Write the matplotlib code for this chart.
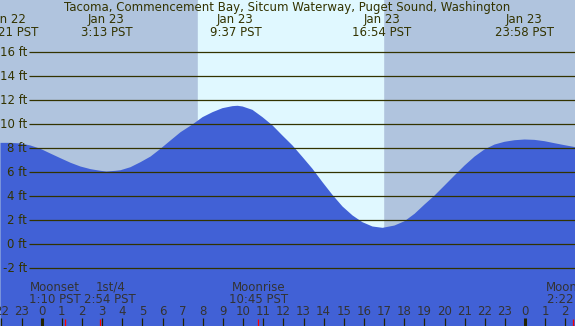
import matplotlib
matplotlib.use("Agg")
import matplotlib.pyplot as plt

# ---- data ----
title = "Tacoma, Commencement Bay, Sitcum Waterway, Puget Sound, Washington"
# tide curve (hours since Jan 23 00:00 PST, feet)
tide_hours = [-2.07, -1.57, -1.08, -0.58, -0.08, 0.41, 0.91, 1.41, 1.90, 2.40,
              2.90, 3.19, 3.64, 3.89, 4.38, 4.88, 5.38, 5.87, 6.37, 6.87,
              7.46, 7.96, 8.46, 8.95, 9.45, 9.70, 9.95, 10.44, 10.94, 11.44,
              11.93, 12.43, 12.93, 13.42, 13.92, 14.41, 14.91, 15.41, 15.90,
              16.40, 16.90, 17.49, 17.99, 18.49, 18.98, 19.48, 19.98, 20.47,
              20.97, 21.47, 21.96, 22.46, 22.96, 23.45, 23.95, 24.44, 24.94,
              25.44, 25.93, 26.48]
tide_feet = [8.47, 8.47, 8.42, 8.25, 7.97, 7.58, 7.19, 6.81, 6.50, 6.28,
             6.14, 6.08, 6.14, 6.19, 6.44, 6.86, 7.33, 7.97, 8.67, 9.36,
             10.00, 10.61, 11.03, 11.36, 11.53, 11.56, 11.50, 11.22, 10.61, 9.92,
             9.08, 8.25, 7.28, 6.31, 5.19, 4.14, 3.17, 2.42, 1.86,
             1.50, 1.39, 1.58, 1.94, 2.56, 3.33, 4.08, 4.92, 5.75,
             6.58, 7.33, 7.92, 8.33, 8.56, 8.69, 8.75, 8.72, 8.61,
             8.44, 8.28, 8.11]
# extremes labels
ext_hours = [-1.65, 3.217, 9.617, 16.9, 23.967]
ext_dates = ["Jan 22", "Jan 23", "Jan 23", "Jan 23", "Jan 23"]
ext_times = ["22:21 PST", "3:13 PST", "9:37 PST", "16:54 PST", "23:58 PST"]
# sun
sunrise = 7.77
sunset = 16.95
# height grid
ft_levels = [-2, 0, 2, 4, 6, 8, 10, 12, 14, 16]
# moon events
moon_hours = [1.167, 2.9, 10.75, 26.367]
moon_names = ["Moonset", "1st/4", "Moonrise", "Moonrise"]
moon_times = ["1:10 PST", "2:54 PST", "10:45 PST", "2:22 PST"]
moon_label_shift = [-0.5, 0.5, 0.0, 0.0]  # hours, to avoid label overlap
# hour ticks
tick_hours = list(range(-2, 27))

# ---- style ----
W, H = 575, 326
X0, PXH = 41.7, 20.14     # pixel of midnight, pixels per hour
Y0, PXF = 244.0, 12.0     # pixel of 0 ft, pixels per foot
xmin, xmax = -X0 / PXH, (W - X0) / PXH
ymin, ymax = (Y0 - H) / PXF, Y0 / PXF

def py(p):  # pixel from top -> feet
    return (Y0 - p) / PXF

def px(p):  # pixel from left -> hours
    return (p - X0) / PXH

night = "#B0C4DE"
day = "#E0F8FF"
water = "#4161D6"
ink = "#333300"
ink2 = "#333333"
fs = 8.5

fig = plt.figure(figsize=(W / 100, H / 100), dpi=100)
ax = fig.add_axes([0, 0, 1, 1])
ax.set_xlim(xmin, xmax)
ax.set_ylim(ymin, ymax)
ax.axis("off")
fig.patch.set_facecolor(night)

ax.axvspan(xmin, xmax, color=night, zorder=0)
ax.axvspan(sunrise, sunset, color=day, zorder=1)
ax.fill_between(tide_hours, ymin, tide_feet, color=water, lw=0, zorder=2)

ax.hlines(ft_levels, px(29), xmax, color=ink, lw=0.9, zorder=3)
for lv in ft_levels:
    ax.text(px(27), lv, f"{lv} ft", ha="right", va="center", fontsize=fs,
            color=ink, zorder=4)

ax.text(px(287), py(7), title, ha="center", va="center", fontsize=fs, color=ink, zorder=4)
for h, d, t in zip(ext_hours, ext_dates, ext_times):
    ax.text(h, py(19), d, ha="center", va="center", fontsize=fs, color=ink, zorder=4)
    ax.text(h, py(32), t, ha="center", va="center", fontsize=fs, color=ink, zorder=4)

for h in tick_hours:
    lw = 2.2 if h % 24 == 0 else 0.9
    ax.vlines(h, py(326), py(318), color="#222200", lw=lw, zorder=4)
    ax.text(h, py(311.5), str(h % 24), ha="center", va="center", fontsize=fs,
            color=ink2, zorder=4)

for h, n, t, s in zip(moon_hours, moon_names, moon_times, moon_label_shift):
    ax.vlines(h, py(326), py(319), color="red", lw=0.9, zorder=5)
    ax.text(h + s, py(287.5), n, ha="center", va="center", fontsize=fs,
            color=ink2, zorder=4)
    ax.text(h + s, py(299.5), t, ha="center", va="center", fontsize=fs,
            color=ink2, zorder=4)

fig.savefig("out.png", dpi=100, facecolor=night)
